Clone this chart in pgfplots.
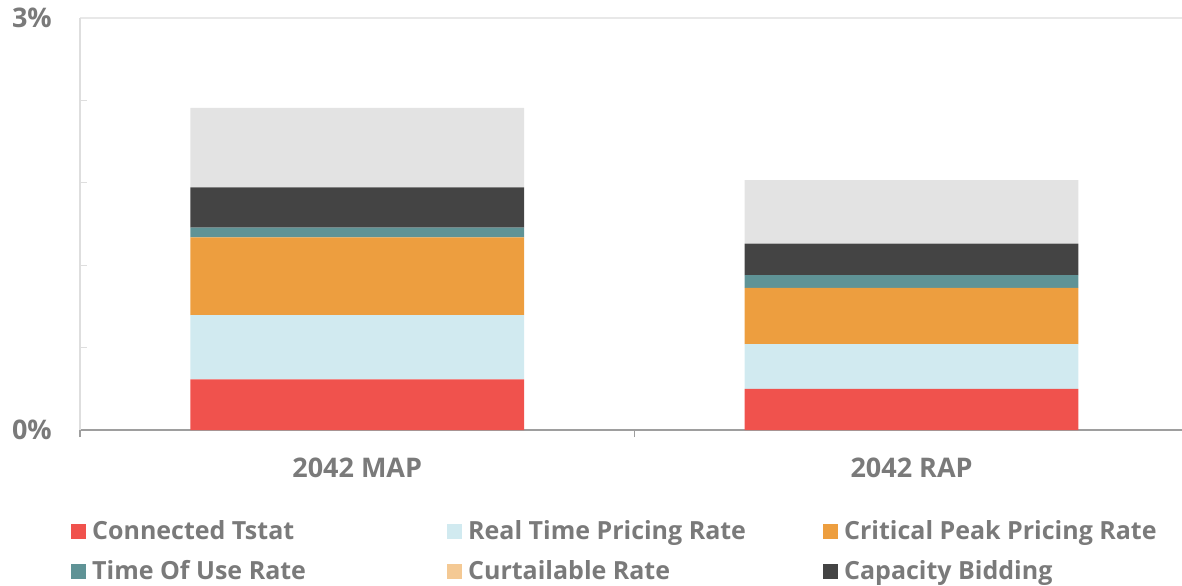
\documentclass[border=0pt]{standalone}
\usepackage{pgfplots}
\pgfplotsset{compat=1.18}
\usepackage{fontspec}
\setmainfont{Open Sans}
\definecolor{cRed}{HTML}{F0524D}
\definecolor{cLBlue}{HTML}{D1EAF0}
\definecolor{cOrange}{HTML}{ED9E3F}
\definecolor{cTeal}{HTML}{5F9396}
\definecolor{cCurt}{HTML}{F4C994}
\definecolor{cDark}{HTML}{444444}
\definecolor{cGray}{HTML}{E3E3E3}
\definecolor{txt}{HTML}{7A7A7A}
\begin{document}
\begin{tikzpicture}
\useasboundingbox (-80bp,-156bp) rectangle (1102bp,430bp);
\begin{axis}[
  scale only axis,
  width=1102bp, height=412bp,
  ybar stacked,
  bar width=0.602,
  xmin=-0.5, xmax=1.4878,
  ymin=0, ymax=3,
  axis x line=bottom, axis y line=left,
  x axis line style={-, draw=black!38, line width=1.6bp},
  y axis line style={-, draw=black!13, line width=1.6bp},
  xtick={0,1}, xticklabels={2042 MAP, 2042 RAP},
  minor xtick={-0.5,0.5},
  ytick={0,3}, yticklabels={0\%, 3\%},
  minor ytick={0.6,1.2,1.8,2.4},
  major tick length=0pt,
  minor tick length=7bp,
  tick align=inside,
  minor x tick style={draw=black!38, line width=1.4bp, yshift=-7bp},
  minor y tick style={draw=black!13, line width=1.4bp},
  ymajorgrids, grid style={draw=black!9, line width=1.4bp},
  tick label style={font=\bfseries\fontsize{27bp}{31bp}\selectfont, text=txt, inner sep=0pt},
  xticklabel style={anchor=north, yshift=-28bp},
  yticklabel style={anchor=east, xshift=-28bp},
  legend columns=3,
  legend cell align=left,
  legend style={at={(0,0)}, anchor=north west, xshift=-9bp, yshift=-89bp,
    draw=none, fill=none, inner sep=0pt, row sep=14bp, column sep=0pt,
    font=\bfseries\fontsize{25bp}{30bp}\selectfont, text=txt,
    nodes={inner sep=0pt, text height=20bp, text depth=6bp},
    /tikz/every odd column/.append style={column sep=6bp}},
]
\pgfplotsset{legend image code/.code={\fill[#1] (0bp,-7bp) rectangle (15bp,8bp);}}
\addplot[fill=cRed, draw=none] coordinates {(0,0.369) (1,0.299)};
\addlegendentry{\makebox[355bp][l]{Connected Tstat}}
\addplot[fill=cLBlue, draw=none] coordinates {(0,0.468) (1,0.327)};
\addlegendentry{\makebox[355bp][l]{Real Time Pricing Rate}}
\addplot[fill=cOrange, draw=none] coordinates {(0,0.566) (1,0.408)};
\addlegendentry{Critical Peak Pricing Rate}
\addplot[fill=cTeal, draw=none] coordinates {(0,0.070) (1,0.093)};
\addlegendentry{\makebox[355bp][l]{Time Of Use Rate}}
\addplot[fill=cCurt, draw=none] coordinates {(0,0) (1,0)};
\addlegendentry{\makebox[355bp][l]{Curtailable Rate}}
\addplot[fill=cDark, draw=none] coordinates {(0,0.294) (1,0.230)};
\addlegendentry{Capacity Bidding}
\addplot[fill=cGray, draw=none, forget plot] coordinates {(0,0.578) (1,0.463)};
\end{axis}
\end{tikzpicture}
\end{document}
